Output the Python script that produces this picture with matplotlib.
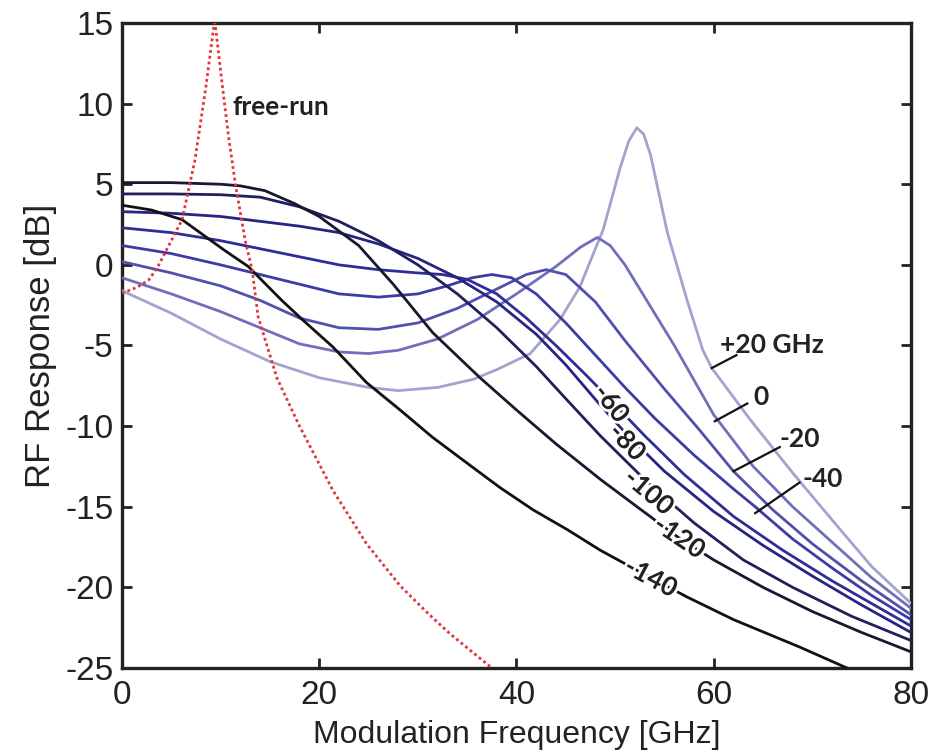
import matplotlib
matplotlib.use("Agg")
import matplotlib.pyplot as plt
import matplotlib.patheffects as pe

# ---------------- data ----------------
free_f = [0, 1.5, 2.7, 3.6, 5.0, 6.1, 7.4, 8.5, 9.4, 10.2, 10.8, 11.5, 12.5, 13.2, 13.8, 15.7, 18.0, 21.4, 24.8, 28.2, 31.0, 33.3, 37.5]
free_v = [-1.75, -1.4, -0.95, -0.15, 1.5, 2.8, 6.5, 11.0, 15.2, 11.0, 8.0, 5.0, 1.5, -0.3, -3.2, -7.0, -10.0, -14.0, -17.3, -19.9, -21.6, -22.9, -25.0]

det_labels = ["+20 GHz", "0", "-20", "-40", "-60", "-80", "-100", "-120", "-140"]

f_p20 = [0, 5, 10, 15, 20, 25, 28, 32, 35.6, 38, 41.4, 44.4, 46.4, 48.8, 50.5, 51.4, 52.2, 52.9, 53.6, 55.3, 57.3, 58.9, 59.8, 63.7, 68, 72.8, 76, 80]
v_p20 = [-1.6, -3.0, -4.6, -6.0, -7.0, -7.6, -7.8, -7.6, -7.1, -6.5, -5.5, -3.4, -1.4, 2.2, 6.0, 7.7, 8.5, 8.1, 6.8, 2.0, -2.2, -5.3, -6.4, -9.6, -12.9, -16.4, -18.7, -21.0]

f_0 = [0, 5, 10, 14, 18, 22, 25, 28, 32, 36, 40, 44, 46.5, 48.2, 49.5, 51, 53, 56, 60, 64, 68, 72, 76, 80]
v_0 = [-0.8, -1.8, -2.9, -3.9, -4.9, -5.4, -5.5, -5.3, -4.6, -3.4, -1.8, -0.1, 1.1, 1.7, 1.2, 0.0, -2.0, -5.0, -9.3, -12.5, -15.0, -17.2, -19.4, -21.3]

f_m20 = [0, 5, 10, 14, 18, 22, 26, 30, 34, 38, 41, 43, 45, 48, 51, 55, 58.5, 62, 66, 70, 75, 80]
v_m20 = [0.2, -0.5, -1.3, -2.2, -3.3, -3.9, -4.0, -3.6, -2.7, -1.5, -0.6, -0.3, -0.6, -2.3, -4.7, -7.7, -10.2, -12.8, -15.2, -17.3, -19.6, -21.7]

f_m40 = [0, 5, 10, 14, 18, 22, 26, 30, 33, 35.5, 37.5, 39.5, 42, 45, 48, 51, 54, 58, 62, 64.2, 68, 72, 76, 80]
v_m40 = [1.2, 0.7, 0.0, -0.6, -1.2, -1.8, -2.0, -1.8, -1.3, -0.8, -0.6, -0.8, -1.8, -3.6, -5.6, -7.6, -9.5, -11.8, -13.9, -15.0, -17.0, -18.8, -20.5, -22.0]

f_m60 = [0, 5, 10, 14, 18, 22, 26, 30, 32.5, 35, 38, 41, 44, 47, 49.4, 53, 57, 62, 67, 72, 76, 80]
v_m60 = [2.3, 2.0, 1.5, 1.0, 0.5, 0.0, -0.3, -0.5, -0.6, -0.9, -1.8, -3.3, -5.0, -6.8, -8.3, -10.6, -13.0, -15.6, -17.7, -19.6, -21.0, -22.4]

f_m80 = [0, 5, 10, 14, 18, 22, 26, 30, 34, 38, 42, 45, 48.5, 51, 55, 60, 65, 70, 75, 80]
v_m80 = [3.3, 3.2, 3.0, 2.7, 2.4, 2.0, 1.3, 0.4, -0.8, -2.3, -4.3, -6.2, -8.7, -10.4, -12.8, -15.3, -17.4, -19.3, -21.1, -22.8]

f_m100 = [0, 5, 10, 14, 18, 22, 26, 30, 34, 38, 42, 45, 48.5, 53.3, 58, 63, 68, 74, 80]
v_m100 = [4.4, 4.4, 4.35, 4.2, 3.6, 2.7, 1.5, 0.0, -1.8, -3.9, -6.3, -8.3, -10.6, -13.5, -16.0, -18.3, -20.0, -21.8, -23.3]

f_m120 = [0, 5, 10, 12, 14.5, 17.5, 20, 24, 27.5, 31.5, 36.3, 40, 44, 48.5, 52, 56.4, 60, 65, 70, 75, 80]
v_m120 = [5.1, 5.1, 5.0, 4.9, 4.6, 3.8, 3.0, 1.2, -1.2, -4.2, -7.0, -9.0, -11.1, -13.3, -14.9, -16.9, -18.3, -20.0, -21.5, -22.8, -24.0]

f_m140 = [0, 3, 6.1, 10.4, 12.8, 16.2, 18.3, 21.4, 24.8, 28.2, 31.5, 35, 38.3, 41.7, 45.1, 48.5, 53, 57.3, 62, 68.7, 73.5]
v_m140 = [3.7, 3.4, 2.8, 0.9, -0.1, -2.2, -3.4, -5.1, -7.3, -9.0, -10.7, -12.3, -13.8, -15.2, -16.4, -17.7, -19.2, -20.6, -22.0, -23.7, -25.0]

x_ticks = [0, 20, 40, 60, 80]
y_ticks = [-25, -20, -15, -10, -5, 0, 5, 10, 15]

# ---------------- styling ----------------
curves = [(f_p20, v_p20), (f_0, v_0), (f_m20, v_m20), (f_m40, v_m40), (f_m60, v_m60),
          (f_m80, v_m80), (f_m100, v_m100), (f_m120, v_m120), (f_m140, v_m140)]
colors = ["#a3a3cf", "#6f6fbb", "#5050ad", "#3c3ca4", "#2e2e96", "#262682", "#20205e", "#18182e", "#111111"]

fig = plt.figure(figsize=(9.36, 7.54), dpi=100)
ax = fig.add_axes([0.1303, 0.1141, 0.8430, 0.8554])

for (f, v), c in zip(curves, colors):
    ax.plot(f, v, color=c, lw=2.0, solid_capstyle="round", solid_joinstyle="round", zorder=3)

ax.plot(free_f, free_v, color="#e0353d", lw=2.0, linestyle=(0, (1, 1.1)), zorder=4)

ax.set_xlim(0, 80)
ax.set_ylim(-25, 15)
ax.set_xticks(x_ticks)
ax.set_yticks(y_ticks)
ax.set_xticklabels([str(t) for t in x_ticks])
ax.set_yticklabels([str(t) for t in y_ticks])

for lab in ax.get_xticklabels() + ax.get_yticklabels():
    lab.set_fontfamily("Liberation Sans")
    lab.set_fontsize(24)
    lab.set_color("#222222")

ax.tick_params(direction="in", length=7, width=2, top=True, right=True, colors="#222222")
ax.tick_params(axis="y", pad=6)
ax.tick_params(axis="x", pad=9)
for s in ax.spines.values():
    s.set_linewidth(2.4)
    s.set_color("#222222")

ax.set_xlabel("Modulation Frequency [GHz]", fontfamily="Liberation Sans", fontsize=23, color="#222222", labelpad=6)
ax.set_ylabel("RF Response [dB]", fontfamily="Liberation Sans", fontsize=25, color="#222222", labelpad=6)

lab_font = dict(family=["Lato", "DejaVu Sans"], weight="bold", fontsize=19, color="#222222")
stroke = [pe.withStroke(linewidth=4, foreground="white")]

ax.text(11.2, 9.8, "free-run", ha="left", va="center", zorder=6, **lab_font)

# inline labels on curves (text, x, y, rotation)
inline = [("-60", 49.6, -8.6, -52), ("-80", 51.2, -11.0, -46), ("-100", 53.4, -14.1, -40),
          ("-120", 56.5, -16.9, -34), ("-140", 53.6, -19.4, -28)]
for t, x, y, r in inline:
    ax.text(x, y, t, rotation=r, rotation_mode="anchor", ha="center", va="center",
            zorder=6, path_effects=stroke, **lab_font)

# leader labels (text, curve point, line end, text anchor)
leaders = [("+20 GHz", (59.8, -6.4), (62.3, -5.6), (60.6, -5.0)),
           ("0", (60.1, -9.7), (63.4, -8.6), (64.0, -8.2)),
           ("-20", (62.0, -12.8), (66.7, -11.3), (66.7, -10.8)),
           ("-40", (64.2, -15.4), (68.7, -13.5), (69.0, -13.3))]
for t, p0, p1, pt in leaders:
    ax.plot([p0[0], p1[0]], [p0[1], p1[1]], color="#111111", lw=1.6, zorder=5)
    ax.text(pt[0], pt[1], t, ha="left", va="center", zorder=6, **lab_font)

fig.savefig("out.png", dpi=100)
